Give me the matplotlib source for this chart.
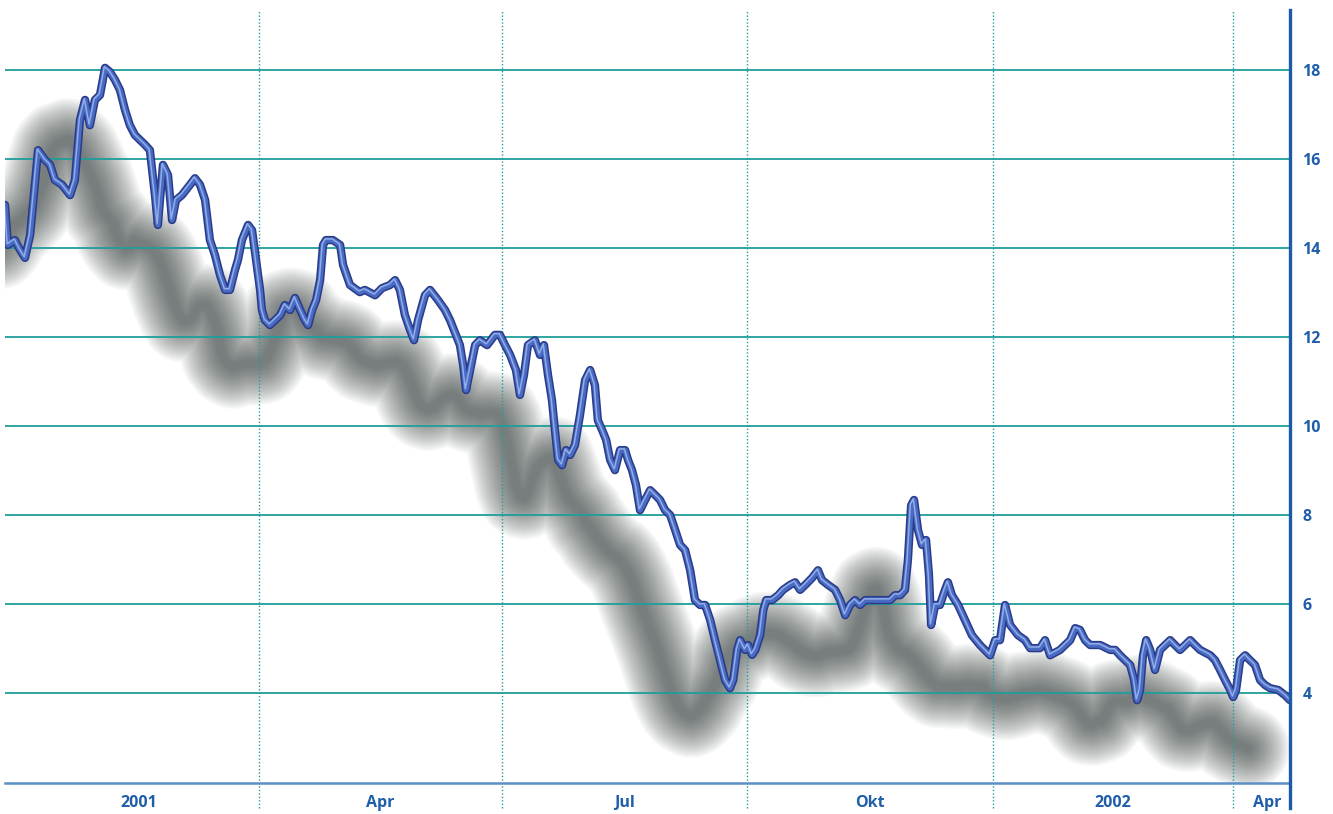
import numpy as np
import matplotlib
matplotlib.use("Agg")
import matplotlib.pyplot as plt
from matplotlib import transforms

# ---- data: days since 2001-01-01 and price ----
days = [-5.2, -4.1, -1.5, 0.4, 2.3, 4.2, 7.2, 9.8, 11.7, 13.5, 16.2, 19.2, 21.0, 22.9, 24.8, 26.6,
        28.5, 30.4, 32.3, 34.1, 36.0, 37.9, 39.8, 41.6, 43.5, 45.4, 47.3, 49.1, 51.0, 52.1, 54.0,
        55.9, 57.4, 58.9, 61.1, 64.1, 66.0, 67.9, 69.8, 71.6, 73.5, 75.4, 77.3, 79.1, 81.0, 82.1,
        83.6, 85.9, 87.4, 88.9, 90.4, 91.1, 92.2, 94.1, 96.0, 97.9, 99.7, 101.6, 103.5, 105.4,
        107.2, 108.4, 109.9, 111.4, 112.9, 114.0, 115.1, 117.7, 120.4, 121.5, 124.1, 127.8, 129.7,
        133.5, 136.1, 139.1, 141.0, 142.8, 144.7, 146.6, 148.1, 149.6, 152.2, 154.1, 157.1, 159.7,
        161.6, 163.8, 165.3, 166.5, 167.6, 169.1, 171.0, 172.8, 175.5, 178.4, 180.3, 182.2, 184.1,
        186.3, 187.8, 189.3, 190.8, 193.4, 195.3, 196.8, 198.3, 199.8, 200.9, 202.1, 203.6, 205.1,
        206.6, 208.4, 210.3, 212.2, 214.1, 215.9, 217.0, 218.6, 220.1, 221.6, 223.4, 225.3, 227.2,
        228.3, 229.8, 231.3, 232.8, 234.7, 236.6, 238.5, 240.3, 242.2, 244.1, 246.0, 247.8, 249.7,
        251.6, 253.4, 255.3, 257.2, 259.1, 260.9, 262.8, 264.7, 266.5, 267.7, 269.2, 270.3, 272.2,
        273.3, 274.8, 276.0, 277.8, 279.0, 280.1, 282.3, 284.6, 286.4, 289.0, 290.9, 292.8, 294.7,
        297.3, 299.5, 301.0, 303.3, 305.9, 307.8, 309.7, 311.5, 313.4, 315.3, 317.2, 319.0, 322.8,
        326.5, 328.4, 330.3, 332.1, 333.2, 334.4, 335.5, 337.0, 338.5, 340.0, 341.1, 341.9, 343.4,
        345.2, 347.1, 348.2, 349.7, 352.0, 354.6, 357.2, 360.2, 364.0, 365.9, 367.7, 369.6, 371.5,
        374.5, 377.1, 379.0, 382.7, 384.6, 386.5, 390.2, 392.1, 394.0, 395.9, 397.7, 399.6, 401.5,
        405.3, 409.0, 410.9, 412.7, 414.6, 416.5, 418.0, 419.1, 420.2, 421.3, 422.5, 424.0, 425.8,
        427.7, 429.6, 431.5, 433.3, 435.2, 437.1, 439.0, 440.8, 442.7, 446.5, 448.3, 450.2, 452.1,
        454.0, 455.1, 456.2, 457.7, 459.6, 461.4, 463.3, 465.2, 467.1, 469.0, 472.0, 474.6, 476.4]

price = [14.97, 14.07, 14.18, 13.96, 13.78, 14.29, 16.20, 15.98, 15.87, 15.53, 15.42, 15.19, 15.53,
         16.88, 17.33, 16.76, 17.33, 17.44, 18.05, 17.96, 17.78, 17.55, 17.10, 16.76, 16.54, 16.43,
         16.32, 16.20, 15.19, 14.52, 15.87, 15.64, 14.63, 15.08, 15.19, 15.42, 15.57, 15.42, 15.08,
         14.18, 13.84, 13.39, 13.06, 13.06, 13.51, 13.73, 14.18, 14.52, 14.40, 13.73, 13.06, 12.61,
         12.38, 12.27, 12.38, 12.49, 12.72, 12.61, 12.88, 12.61, 12.38, 12.27, 12.61, 12.83, 13.28,
         14.07, 14.18, 14.18, 14.07, 13.62, 13.17, 13.01, 13.06, 12.94, 13.10, 13.17, 13.28, 13.06,
         12.49, 12.16, 11.93, 12.38, 12.94, 13.06, 12.83, 12.61, 12.38, 12.05, 11.82, 11.37, 10.81,
         11.26, 11.82, 11.93, 11.82, 12.05, 12.05, 11.82, 11.60, 11.26, 10.70, 11.15, 11.82, 11.93,
         11.60, 11.82, 11.15, 10.58, 9.91, 9.24, 9.12, 9.46, 9.35, 9.57, 10.25, 11.03, 11.26, 10.92,
         10.13, 9.91, 9.69, 9.24, 9.01, 9.46, 9.46, 9.24, 9.01, 8.67, 8.11, 8.34, 8.56, 8.45, 8.34,
         8.11, 8.00, 7.66, 7.33, 7.21, 6.76, 6.09, 5.98, 5.98, 5.64, 5.19, 4.74, 4.29, 4.11, 4.29,
         4.97, 5.19, 4.97, 5.08, 4.86, 4.97, 5.30, 5.87, 6.09, 6.09, 6.20, 6.32, 6.43, 6.49, 6.32,
         6.43, 6.59, 6.76, 6.54, 6.43, 6.32, 6.09, 5.75, 5.98, 6.09, 5.98, 6.09, 6.09, 6.09, 6.09,
         6.20, 6.20, 6.32, 6.99, 8.22, 8.34, 7.66, 7.33, 7.44, 6.65, 5.53, 5.98, 5.98, 6.32, 6.49,
         6.20, 5.98, 5.64, 5.30, 5.08, 4.85, 5.19, 5.19, 5.98, 5.53, 5.30, 5.19, 5.01, 5.01, 5.19,
         4.85, 4.97, 5.08, 5.19, 5.46, 5.42, 5.19, 5.08, 5.08, 4.97, 4.97, 4.85, 4.74, 4.63, 4.29,
         3.84, 4.07, 4.85, 5.19, 4.97, 4.52, 4.97, 5.08, 5.19, 5.08, 4.97, 5.08, 5.19, 5.08, 4.97,
         4.85, 4.74, 4.52, 4.29, 4.07, 3.91, 4.07, 4.74, 4.85, 4.74, 4.63, 4.29, 4.18, 4.11, 4.07,
         3.95, 3.84]

quarter_starts = [0, 90, 181, 273, 365, 455]
label_pos = [45, 135.5, 227, 319, 410, 468]
label_text = ["2001", "Apr", "Jul", "Okt", "2002", "Apr"]
yticks = [4, 6, 8, 10, 12, 14, 16, 18]

# ---- figure ----
W, H = 1333, 814
fig = plt.figure(figsize=(W / 100, H / 100), dpi=100)
ax = fig.add_axes([5 / W, 31 / H, (1290 - 5) / W, (783 - 10) / H])
ax.set_xlim(-5.2, 476.4)
ax.set_ylim(1.98, 19.35)

label_blue = "#1f5ea8"
grid_teal = "#1f9e9b"

# shadow: soft blurred offset copy of a smoothed line
p = np.asarray(price)
k = 7
pad = np.concatenate([np.full(k // 2, p[0]), p, np.full(k // 2, p[-1])])
shadow_price = np.convolve(pad, np.ones(k) / k, mode="valid")
shadow_tr = transforms.offset_copy(ax.transData, fig=fig, x=-42, y=-52, units="dots")
for lw in np.linspace(60, 6, 22):
    ax.plot(days, shadow_price, color="#26302d", lw=lw, alpha=0.04, transform=shadow_tr,
            solid_joinstyle="round", solid_capstyle="round", zorder=1)

# horizontal grid
for yv in yticks:
    ax.axhline(yv, color=grid_teal, lw=1.3, zorder=2)

# vertical dotted separators (extend below axis)
for q in quarter_starts[1:]:
    ax.axvline(q, ymin=-0.032, ymax=1.0, color=grid_teal, lw=1.0, ls=(0, (1, 1.5)),
               clip_on=False, zorder=2)

# blue tube line
ax.plot(days, price, color="#2a3b88", lw=6.0, solid_joinstyle="round",
        solid_capstyle="round", zorder=4)
ax.plot(days, price, color="#4a6bc4", lw=3.8, solid_joinstyle="round",
        solid_capstyle="round", zorder=5)
hl_tr = transforms.offset_copy(ax.transData, fig=fig, x=-0.8, y=1.2, units="dots")
ax.plot(days, price, color="#a3bff0", lw=1.1, alpha=0.8, transform=hl_tr,
        solid_joinstyle="round", zorder=6)

# spines
for s in ["top", "left", "right"]:
    ax.spines[s].set_visible(False)
ax.spines["bottom"].set_color("#5a8fc8")
ax.spines["bottom"].set_linewidth(1.8)
ax.plot([1.0, 1.0], [-0.032, 1.0], transform=ax.transAxes, color="#1a5aa8", lw=2.4,
        clip_on=False, zorder=7)

# ticks
ax.yaxis.tick_right()
ax.set_yticks(yticks)
ax.set_yticklabels([str(v) for v in yticks], fontsize=11.5, fontweight="bold",
                   color=label_blue, family="Open Sans")
ax.tick_params(axis="y", length=0, pad=9)
ax.set_xticks([])
for xp, t in zip(label_pos, label_text):
    ax.text(xp, -0.026, t, transform=ax.get_xaxis_transform(), ha="center", va="center",
            fontsize=11.5, fontweight="bold", color=label_blue, family="Open Sans")

fig.savefig("out.png", dpi=100)
